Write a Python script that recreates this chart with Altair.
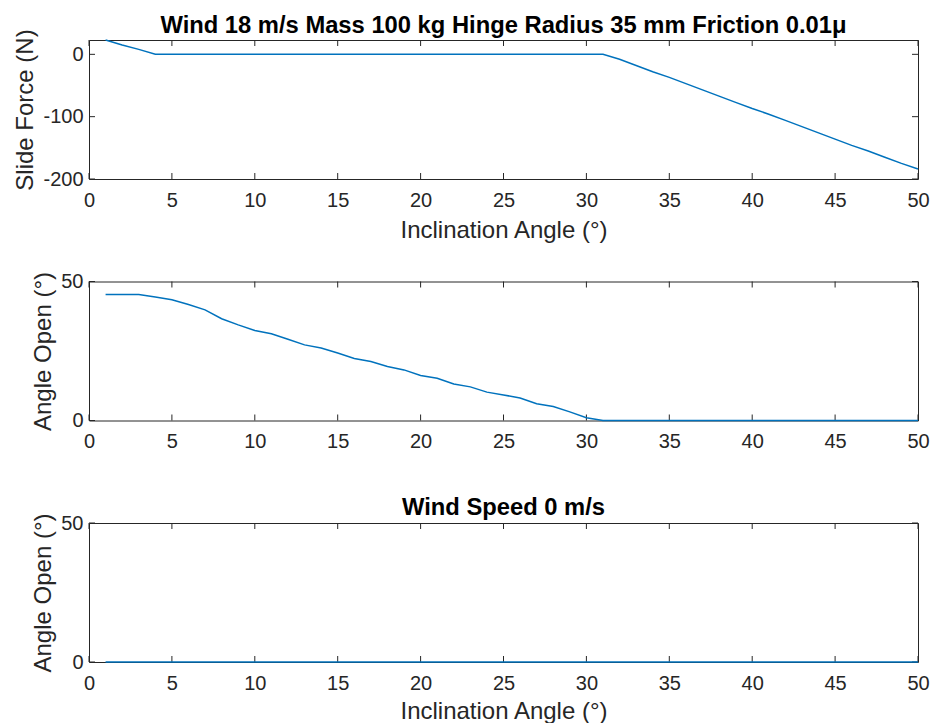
import altair as alt
import pandas as pd

# ---- data ----
angles = list(range(1, 51))

slide_force = [23, 15, 8, 0, 0, 0, 0, 0, 0, 0,
               0, 0, 0, 0, 0, 0, 0, 0, 0, 0,
               0, 0, 0, 0, 0, 0, 0, 0, 0, 0,
               0, -8, -18, -28, -37, -47, -57, -67, -77, -87,
               -96, -106, -116, -126, -136, -146, -155, -165, -175, -184]

angle_open_18 = [45.3, 45.3, 45.3, 44.4, 43.4, 41.7, 39.8, 36.6, 34.4, 32.4,
                 31.2, 29.2, 27.2, 26.1, 24.3, 22.3, 21.2, 19.4, 18.2, 16.2,
                 15.2, 13.1, 12.1, 10.2, 9.2, 8.1, 6.0, 5.0, 3.1, 1.0,
                 0, 0, 0, 0, 0, 0, 0, 0, 0, 0,
                 0, 0, 0, 0, 0, 0, 0, 0, 0, 0]

angle_open_0 = [0] * 50

x_ticks = [0, 5, 10, 15, 20, 25, 30, 35, 40, 45, 50]
force_ticks = [-200, -100, 0]
open_ticks = [0, 50]

title_top = "Wind 18 m/s Mass 100 kg Hinge Radius 35 mm Friction 0.01\u03bc"
title_bottom = "Wind Speed 0 m/s"
x_label = "Inclination Angle (\u00b0)"
y_label_force = "Slide Force (N)"
y_label_open = "Angle Open (\u00b0)"

# ---- styling ----
FONT = "Liberation Sans"
LINE = "#0072BD"
AXC = "#262626"
W, H = 829, 139
TL = 6

xdf = pd.DataFrame({"t": x_ticks})


def panel(values, ydomain, yticks, ytitle, title=None, title_offset=0, xtitle=None,
          xtitle_pad=8):
    df = pd.DataFrame({"angle": angles, "v": values})
    xscale = alt.Scale(domain=[0, 50], nice=False, zero=False)
    yscale = alt.Scale(domain=ydomain, nice=False, zero=False)
    xaxis = alt.Axis(values=x_ticks, ticks=False, domain=False, grid=False,
                     labelFlush=False, labelPadding=11, titlePadding=xtitle_pad,
                     labelExpr="'' + datum.value")
    yaxis = alt.Axis(values=yticks, ticks=False, domain=False, grid=False,
                     labelFlush=False, labelPadding=6, titlePadding=5,
                     labelExpr="'' + datum.value")
    line = alt.Chart(df).mark_line(color=LINE, strokeWidth=1.5).encode(
        x=alt.X("angle:Q", scale=xscale, title=xtitle, axis=xaxis),
        y=alt.Y("v:Q", scale=yscale, title=ytitle, axis=yaxis),
    )
    ydf = pd.DataFrame({"t": yticks})
    rule = dict(color=AXC, strokeWidth=1)
    xt_top = alt.Chart(xdf).mark_rule(**rule).encode(
        x=alt.X("t:Q", scale=xscale, title=xtitle, axis=xaxis), y=alt.value(0), y2=alt.value(TL))
    xt_bot = alt.Chart(xdf).mark_rule(**rule).encode(
        x=alt.X("t:Q", scale=xscale, title=xtitle, axis=xaxis), y=alt.value(H - TL), y2=alt.value(H))
    yt_left = alt.Chart(ydf).mark_rule(**rule).encode(
        y=alt.Y("t:Q", scale=yscale, title=ytitle, axis=yaxis), x=alt.value(0), x2=alt.value(TL))
    yt_right = alt.Chart(ydf).mark_rule(**rule).encode(
        y=alt.Y("t:Q", scale=yscale, title=ytitle, axis=yaxis), x=alt.value(W - TL), x2=alt.value(W))
    props = dict(width=W, height=H)
    if title is not None:
        props["title"] = alt.TitleParams(title, fontSize=23.75, fontWeight="bold", font=FONT,
                                         color="black", anchor="middle", frame="group",
                                         offset=title_offset)
    return alt.layer(xt_top, xt_bot, yt_left, yt_right, line).properties(**props)


p1 = panel(slide_force, [-200, 23], force_ticks, y_label_force,
           title=title_top, title_offset=-9, xtitle=x_label)
p2 = panel(angle_open_18, [0, 50], open_ticks, y_label_open)
p3 = panel(angle_open_0, [0, 50], open_ticks, y_label_open,
           title=title_bottom, title_offset=-7, xtitle=x_label, xtitle_pad=6)

chart = alt.vconcat(p1, p2, p3, spacing=102.5, bounds="flush").properties(
    padding={"left": 5, "top": 5, "right": 0, "bottom": 0},
    background="white",
).configure_view(
    stroke=AXC, strokeWidth=1
).configure_axis(
    labelFont=FONT, labelFontSize=20, labelColor=AXC,
    titleFont=FONT, titleFontSize=24, titleColor=AXC, titleFontWeight="normal",
)

chart.save("out.html", embed_options={"renderer": "svg", "actions": False})
